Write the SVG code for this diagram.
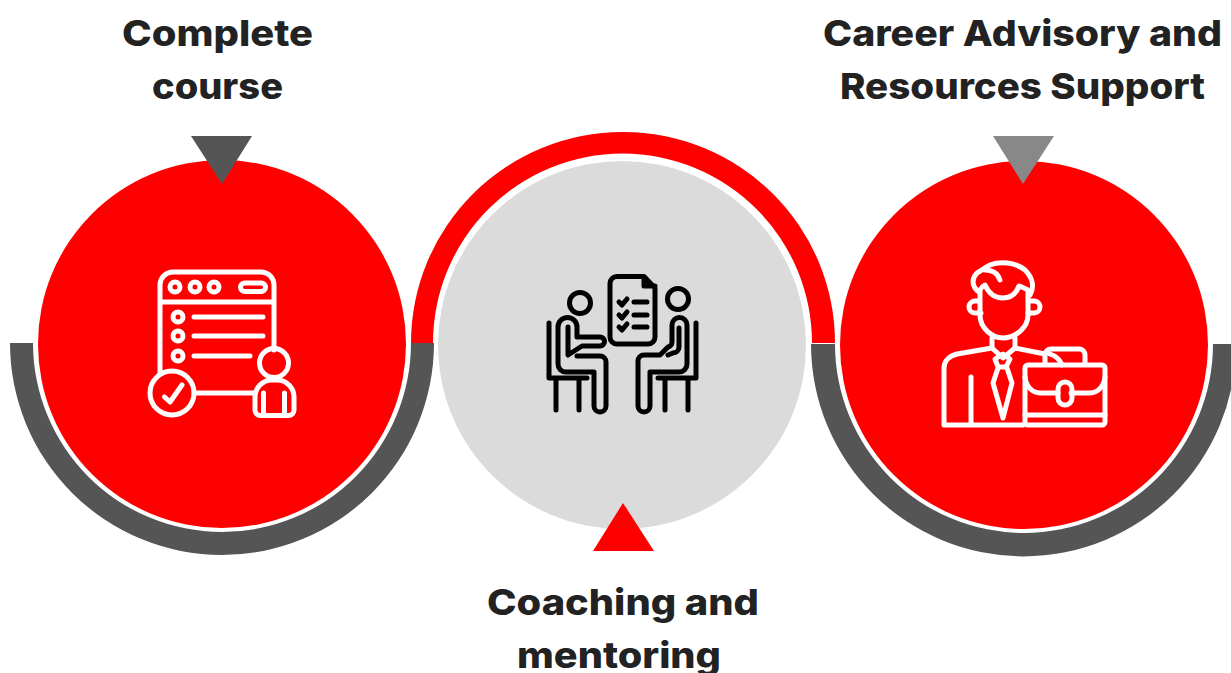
<svg xmlns="http://www.w3.org/2000/svg" width="1231" height="673" viewBox="0 0 1231 673">
<style>
.t{font-family:"Inter","Liberation Sans",sans-serif;font-weight:800;font-size:36px;fill:#222;text-anchor:start}
.w{fill:none;stroke:#fff;stroke-width:5;stroke-linecap:round;stroke-linejoin:round}
.k{fill:none;stroke:#000;stroke-width:5;stroke-linecap:round;stroke-linejoin:round}
</style>
<rect width="1231" height="673" fill="#fff"/>
<g id="connectors">
<path d="M10 343H33A189 189 0 0 0 411 343H434A212 212 0 0 1 10 343Z" fill="#555"/>
<path d="M411 343H433A189.500 189.500 0 0 1 812 343H835A212 211 0 0 0 411 343Z" fill="#f00"/>
<path d="M811 344H835A189 189 0 0 0 1213 344H1236A212.500 212.500 0 0 1 811 344Z" fill="#555"/>
</g>
<g id="node-complete">
<circle cx="222" cy="344" r="184" fill="#f00"/>
<path d="M191 136H252L222 184Z" fill="#555"/>
<g class="w">
<path d="M160 372V285A13 13 0 0 1 173 272H261A13 13 0 0 1 274 285V350M160 302H274"/>
<circle cx="175" cy="287" r="5"/><circle cx="195" cy="287" r="5"/><circle cx="214" cy="287" r="5"/>
<rect x="240.500" y="283" width="25" height="8.500" rx="4.200"/>
<circle cx="178" cy="317" r="5"/><circle cx="178" cy="336" r="5"/><circle cx="178" cy="356" r="5"/>
<path d="M194 317H263M194 336H263M194 356H250"/>
<circle cx="172" cy="393" r="22"/>
<path d="M164.500 397L170 402L182 385M195 393H253"/>
<circle cx="274" cy="363" r="14.500"/>
<path d="M255 397A17 17 0 0 1 272 380H277A17 17 0 0 1 294 397V410A5.500 5.500 0 0 1 288.500 415.500H260.500A5.500 5.500 0 0 1 255 410ZM263.500 393V415M284.500 393V415"/>
</g>
<text class="t" x="122" y="46" textLength="191" lengthAdjust="spacingAndGlyphs">Complete</text>
<text class="t" x="152" y="99" textLength="131" lengthAdjust="spacingAndGlyphs">course</text>
</g>
<g id="node-coaching">
<circle cx="622" cy="345" r="184" fill="#dbdbdb"/>
<path d="M593 551H654L623 503Z" fill="#f00"/>
<g class="k">
<path d="M617 276.500H644L655 288V337A7 7 0 0 1 648 344H617A7 7 0 0 1 610 337V283.500A7 7 0 0 1 617 276.500ZM644 277V286H655"/>
<path d="M619 302L622 305L627 299M619 315L622 318L627 312M619 327L622 330L627 324M634 302H647M634 315H647M634 327H647"/>
<circle cx="580" cy="303" r="10.500"/><circle cx="678" cy="299" r="10.500"/>
<path d="M577 356H600A6 6 0 0 1 606 362V406A6 6 0 0 1 594 406V372H566A8 8 0 0 1 558 364V327A9.500 9.500 0 0 1 577 327V337H600A4.500 4.500 0 0 1 600 346H582L568 355V327"/>
<path d="M549 323V378H587M556 378V410M579 378V410"/>
<path d="M650 406V372H679A8 8 0 0 0 687 364V325A7.500 7.500 0 0 0 672 325V342A5 5 0 0 1 668 347L660 355H644A6 6 0 0 0 638 361V406A6 6 0 0 0 650 406Z"/>
<path d="M679 328V347A6 6 0 0 1 673 353L668 355"/>
<path d="M696 323V378H658M688 378V410M665 378V410"/>
</g>
<text class="t" x="487" y="615" textLength="272" lengthAdjust="spacingAndGlyphs">Coaching and</text>
<text class="t" x="517" y="668" textLength="204" lengthAdjust="spacingAndGlyphs">mentoring</text>
</g>
<g id="node-career">
<circle cx="1024" cy="345" r="184" fill="#f00"/>
<path d="M993 136H1054L1023 184Z" fill="#888"/>
<g class="w">
<path d="M980 290V315C980 328 992 338 1003 338C1015 338 1028 328 1028 315V290C1024 288 1020 286 1019 286C1016 294 1010 298 1003 298C995 298 989 294 985 285C983 286 981 288 980 290Z"/>
<path d="M979 292C972 287 971 279 977 273C981 271 984 268 990 265C1000 261 1015 262 1025 270C1032 277 1035 286 1030 295M985 270C993 270 998 274 1000 280"/>
<path d="M979 301H975A6 6 0 0 0 975 313H981M1029 301H1034A6 6 0 0 1 1034 313H1028"/>
<path d="M992 338V348L1003 358L1015 348V338"/>
<path d="M995 359L1003 354L1010 359L1006 367H998ZM998 368L993 383L1003 418L1012 383L1007 368"/>
<path d="M992 348L957 354C949 356 944 361 944 368V425H1023M1015 348L1045 354M971 377V425"/>
<rect x="1025" y="365" width="80" height="60" rx="3"/>
<path d="M1025 377C1026 386 1032 393 1040 393H1058M1071 393H1090C1098 393 1104 386 1105 377M1025 415H1105"/>
<rect x="1058" y="382" width="14" height="23" rx="7"/>
<path d="M1045 364V355A6 6 0 0 1 1051 349H1079A6 6 0 0 1 1085 355V364M1050 354C1056 356 1060 360 1062 365"/>
</g>
<text class="t" x="823" y="46" textLength="399" lengthAdjust="spacingAndGlyphs">Career Advisory and</text>
<text class="t" x="840" y="99" textLength="365" lengthAdjust="spacingAndGlyphs">Resources Support</text>
</g>
</svg>
